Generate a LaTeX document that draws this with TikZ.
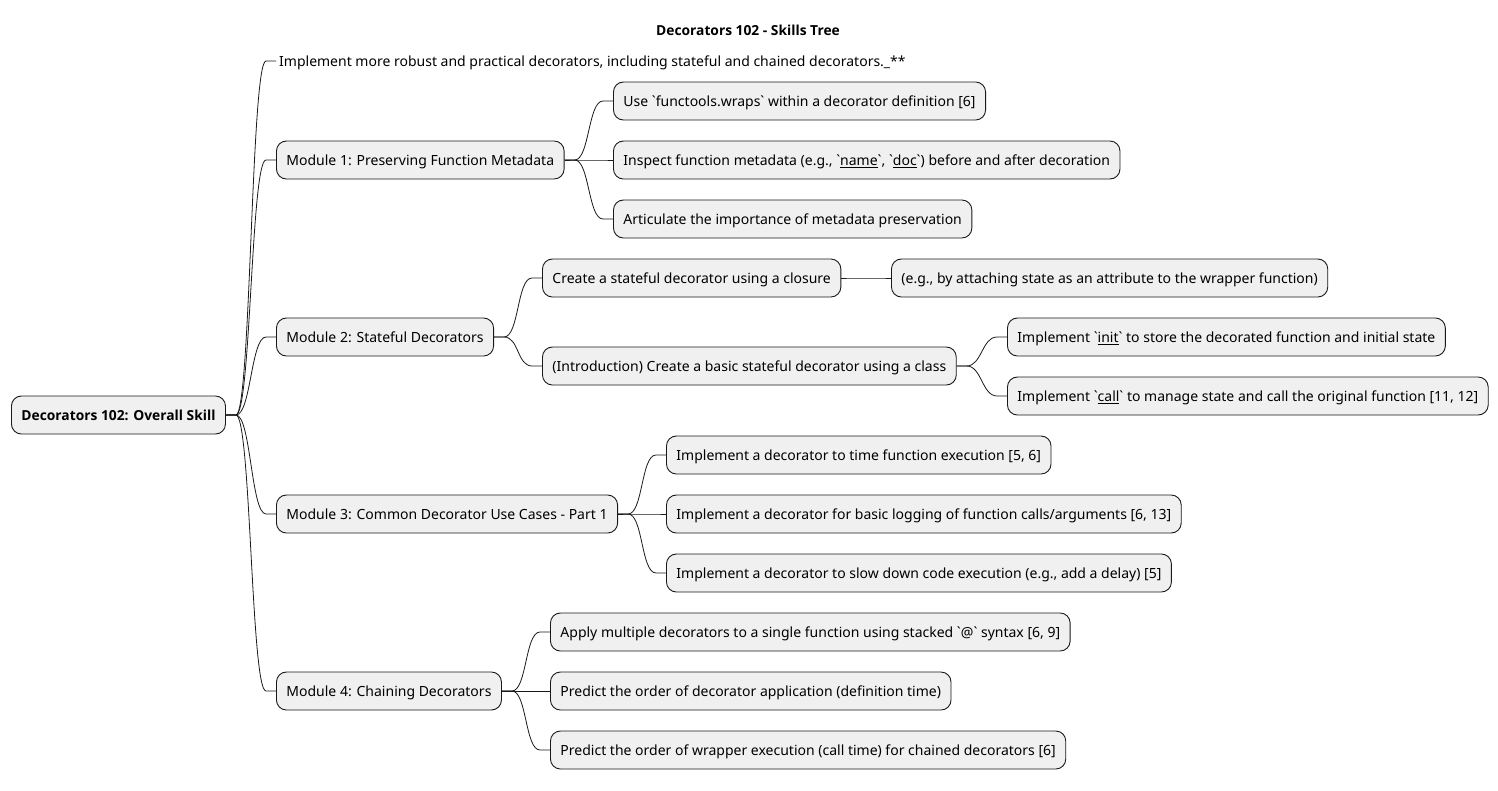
\documentclass[tikz,border=0pt]{standalone}
\usepackage{fontspec}
\newfontfamily\nsans{Noto Sans}
\newfontfamily\nsansbf{Open Sans}
\usetikzlibrary{calc}
\begin{document}
\begin{tikzpicture}[x=1pt,y=-1pt,
  font=\nsans\fontsize{14}{17}\selectfont,
  txt/.style={text height=14.4pt, text depth=3pt},
  heavy/.style={font=\nsansbf\bfseries\fontsize{13.8}{17}\selectfont},
  box/.style={txt, draw=black!90, line width=0.9pt, fill=black!6, rounded corners=10pt,
    minimum height=38pt, inner xsep=10pt, inner ysep=0pt, anchor=west},
  plain/.style={txt, inner xsep=3pt, inner ysep=0pt, anchor=west},
  conn/.style={draw=black!90, line width=0.8pt}]
\useasboundingbox (0,0) rectangle (1498,790);
\newcommand\link[2]{%
  \draw[conn] (#1.east) -- ++(10,0) coordinate (c0)
    .. controls ($(c0)+(15,0)$) and ($(#2.west)+(-25,0)$) .. ($(#2.west)+(-10,0)$)
    -- (#2.west);}

% title
\node[txt, heavy] (title) at (748,30) {Decorators 102 - Skills Tree};

% root
\node[box, heavy] (root) at (11,415) {Decorators 102: Overall Skill};

% first level
\node[plain] (goal) at (276,61) {Implement more robust and practical decorators, including stateful and chained decorators.\_**};
\node[box] (m1) at (276,160) {Module 1: Preserving Function Metadata};
\node[box] (m2) at (276,337) {Module 2: Stateful Decorators};
\node[box] (m3) at (276,514) {Module 3: Common Decorator Use Cases - Part 1};
\node[box] (m4) at (276,691) {Module 4: Chaining Decorators};

% module 1
\node[box] (m1a) at (613,101) {Use `functools.wraps` within a decorator definition [6]};
\node[box] (m1b) at (613,160) {Inspect function metadata (e.g., `\underline{name}`, `\underline{doc}`) before and after decoration};
\node[box] (m1c) at (613,219) {Articulate the importance of metadata preservation};

% module 2
\node[box] (m2a) at (542,278) {Create a stateful decorator using a closure};
\node[box] (m2a1) at (891,278) {(e.g., by attaching state as an attribute to the wrapper function)};
\node[box] (m2b) at (542,366) {(Introduction) Create a basic stateful decorator using a class};
\node[box] (m2b1) at (1007,337) {Implement `\underline{init}` to store the decorated function and initial state};
\node[box] (m2b2) at (1007,396) {Implement `\underline{call}` to manage state and call the original function [11, 12]};

% module 3
\node[box] (m3a) at (666,455) {Implement a decorator to time function execution [5, 6]};
\node[box] (m3b) at (666,514) {Implement a decorator for basic logging of function calls/arguments [6, 13]};
\node[box] (m3c) at (666,573) {Implement a decorator to slow down code execution (e.g., add a delay) [5]};

% module 4
\node[box] (m4a) at (550,632) {Apply multiple decorators to a single function using stacked `@` syntax [6, 9]};
\node[box] (m4b) at (550,691) {Predict the order of decorator application (definition time)};
\node[box] (m4c) at (550,750) {Predict the order of wrapper execution (call time) for chained decorators [6]};

% connectors
\link{root}{goal}
\link{root}{m1}
\link{root}{m2}
\link{root}{m3}
\link{root}{m4}
\link{m1}{m1a}
\link{m1}{m1b}
\link{m1}{m1c}
\link{m2}{m2a}
\link{m2}{m2b}
\link{m2a}{m2a1}
\link{m2b}{m2b1}
\link{m2b}{m2b2}
\link{m3}{m3a}
\link{m3}{m3b}
\link{m3}{m3c}
\link{m4}{m4a}
\link{m4}{m4b}
\link{m4}{m4c}
\end{tikzpicture}
\end{document}
